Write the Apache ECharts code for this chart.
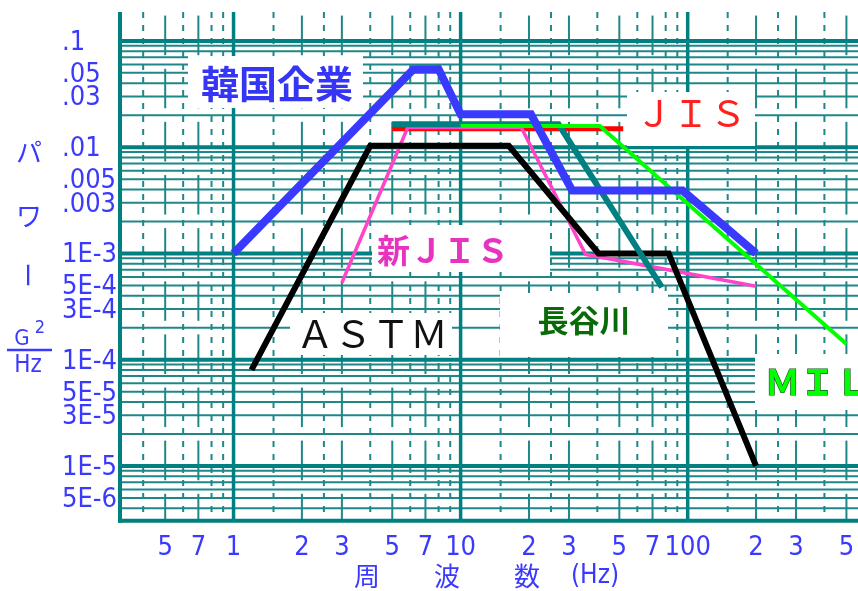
<!DOCTYPE html>
<html>
<head>
<meta charset="utf-8">
<script src="https://cdn.jsdelivr.net/npm/echarts@6/dist/echarts.min.js"></script>
<style>
  html, body { margin: 0; padding: 0; background: #ffffff; }
  #chart { width: 858px; height: 591px; }
</style>
</head>
<body>
<div id="chart"></div>
<script>
// Vibration test profiles: frequency (Hz) breakpoints and PSD (G^2/Hz) levels
const koreaFreq = [1, 6.2, 8.0, 10, 20.4, 31, 95, 200];
const koreaPsd  = [0.001, 0.054, 0.054, 0.0204, 0.0204, 0.0039, 0.0039, 0.001];

const astmFreq = [1.2, 4, 16.3, 40.5, 82.5, 200];
const astmPsd  = [8e-5, 0.0103, 0.0103, 0.001, 0.001, 1e-5];

const newJisFreq = [3, 5.85, 18.5, 35.5, 200];
const newJisPsd  = [5.3e-4, 0.0153, 0.0153, 9.8e-4, 4.9e-4];

const hasegawaFreq = [5, 27, 77];
const hasegawaPsd  = [0.0164, 0.0164, 4.8e-4];

const jisFreq = [5, 52];
const jisPsd  = [0.0149, 0.0149];

const milFreq = [10, 41, 500];
const milPsd  = [0.0158, 0.0158, 1.4e-4];

// Tick labels
const xTickValues = [0.5, 0.7, 1, 2, 3, 5, 7, 10, 20, 30, 50, 70, 100, 200, 300, 500];
const xTickLabels = ['5', '7', '1', '2', '3', '5', '7', '10', '2', '3', '5', '7', '100', '2', '3', '5'];
const yTickValues = [0.1, 0.05, 0.03, 0.01, 0.005, 0.003, 1e-3, 5e-4, 3e-4, 1e-4, 5e-5, 3e-5, 1e-5, 5e-6];
const yTickLabels = ['.1', '.05', '.03', '.01', '.005', '.003', '1E-3', '5E-4', '3E-4', '1E-4', '5E-5', '3E-5', '1E-5', '5E-6'];

// Graph-paper rulings
const xDecades = [1, 10, 100];
const xSolid = [0.5, 0.7, 2, 3, 5, 7, 20, 30, 50, 70, 200, 300, 500];
const xDashed = [0.4, 0.6, 0.8, 0.9, 1.5, 2.5, 4, 6, 8, 9, 15, 25, 40, 60, 80, 90, 150, 250, 400];
const yDecades = [0.1, 0.01, 1e-3, 1e-4, 1e-5];
const yMinorFactors = [0.9, 0.8, 0.7, 0.6, 0.5, 0.4, 0.3, 0.2];

const X_MIN = Math.pow(10, -0.5);
const X_MAX = Math.pow(10, 2.75);
const Y_MIN = 3.05e-6;
const Y_MAX = 0.187;

const RULE = '#008080';
const RULE_THIN = '#1f8787';
const LABEL_BLUE = '#3a3aff';
const NUM_FONT = "'Liberation Sans Narrow', 'DejaVu Sans Condensed', sans-serif";
const JP_FONT = "'Noto Sans CJK JP', sans-serif";

function pairs(xs, ys) { return xs.map((x, i) => [x, ys[i]]); }

function renderPaper(params, api) {
  const els = [];
  const px = v => api.coord([v, Y_MIN])[0];
  const py = v => api.coord([X_MIN, v])[1];
  const left = px(X_MIN), right = px(X_MAX);
  const bottom = py(Y_MIN), top = py(Y_MAX);
  const seg = (x1, y1, x2, y2, w, color, dash) => els.push({
    type: 'line',
    shape: { x1: x1, y1: y1, x2: x2, y2: y2 },
    style: { stroke: color, lineWidth: w, lineDash: dash || null }
  });

  // thin horizontal rulings
  yDecades.forEach(d => yMinorFactors.forEach(f => {
    const v = d * f;
    if (v > Y_MIN && v < Y_MAX) seg(left, py(v), right, py(v), 2, RULE_THIN);
  }));
  // dashed vertical rulings
  xDashed.forEach(v => seg(px(v), top, px(v), bottom, 2, RULE_THIN, [6, 7]));
  // solid vertical rulings, broken into segments
  const bands = [];
  [1e-6, 1e-5, 1e-4, 1e-3, 1e-2].forEach(d => {
    bands.push([2.32 * d, 5.46 * d]);
    bands.push([7.33 * d, 17.3 * d]);
  });
  xSolid.forEach(v => bands.forEach(b => {
    const lo = Math.max(b[0], Y_MIN), hi = Math.min(b[1], Y_MAX);
    if (hi > lo) seg(px(v), py(hi), px(v), py(lo), 2, RULE_THIN);
  }));
  // heavy decade rulings and frame
  yDecades.forEach(d => seg(left, py(d), right, py(d), 4, RULE));
  xDecades.forEach(v => seg(px(v), top, px(v), bottom, 3.5, RULE));
  seg(left, top, left, bottom + 2, 4, RULE);
  seg(left - 2, bottom, right, bottom, 4, RULE);

  // tick labels
  xTickValues.forEach((v, i) => els.push({
    type: 'text',
    style: {
      text: xTickLabels[i], x: px(v), y: bottom + 27,
      fill: LABEL_BLUE, font: '27px ' + NUM_FONT, align: 'center', verticalAlign: 'middle'
    }
  }));
  yTickValues.forEach((v, i) => els.push({
    type: 'text',
    style: {
      text: yTickLabels[i], x: left - 58, y: py(v) + 2,
      fill: LABEL_BLUE, font: '27px ' + NUM_FONT, align: 'left', verticalAlign: 'middle'
    }
  }));
  return { type: 'group', children: els };
}

function box(x, y, w, h) {
  return { type: 'rect', z: 2, shape: { x: x, y: y, width: w, height: h }, style: { fill: '#ffffff' } };
}
function label(text, x, y, font, fill, extra) {
  return {
    type: 'text', z: 2, x: x, y: y,
    style: Object.assign({ text: text, font: font, fill: fill, align: 'center', verticalAlign: 'middle' }, extra || {})
  };
}

function profile(name, xs, ys, color, width) {
  return {
    name: name, type: 'line', z: 3, data: pairs(xs, ys),
    symbol: 'none', showSymbol: false, silent: true,
    lineStyle: { color: color, width: width, join: 'miter' }
  };
}

const chart = echarts.init(document.getElementById('chart'), null, { renderer: 'canvas' });
chart.setOption({
  animation: false,
  backgroundColor: '#ffffff',
  grid: { left: 120, top: 12, width: 738, height: 508.7, containLabel: false },
  xAxis: { type: 'log', min: X_MIN, max: X_MAX, show: false },
  yAxis: { type: 'log', min: Y_MIN, max: Y_MAX, show: false },
  graphic: [
    // profile name plates
    box(188, 56, 175, 52),
    label('韓国企業', 277, 84, 'bold 38px ' + JP_FONT, '#3535f5'),
    box(627, 92, 128, 54),
    label('ＪＩＳ', 691, 113, '37px ' + JP_FONT, '#ff2020'),
    box(372, 225, 178, 47),
    label('新ＪＩＳ', 443, 250, 'bold 33px ' + JP_FONT, '#e832c0'),
    box(290, 313, 162, 42),
    label('ＡＳＴＭ', 372, 334, '38px ' + JP_FONT, '#111111'),
    box(500, 293, 168, 64),
    label('長谷川', 584, 320, 'bold 31px ' + JP_FONT, '#0a6a0a'),
    box(755, 354, 103, 56),
    label('ＭＩＬ', 765, 382, 'bold 35px ' + JP_FONT, '#00ff00',
      { align: 'left', stroke: '#1d4d1d', lineWidth: 1.2 }),
    // y-axis title: パワー  G^2 / Hz
    label('パ', 29, 152, '26px ' + JP_FONT, LABEL_BLUE),
    label('ワ', 29, 216, '26px ' + JP_FONT, LABEL_BLUE),
    { type: 'text', z: 2, x: 28, y: 275, rotation: -Math.PI / 2,
      style: { text: 'ー', font: '26px ' + JP_FONT, fill: LABEL_BLUE, align: 'center', verticalAlign: 'middle' } },
    label('G', 22, 339, '22px ' + NUM_FONT, LABEL_BLUE),
    label('2', 40, 328, '18px ' + NUM_FONT, LABEL_BLUE),
    { type: 'line', z: 2, shape: { x1: 7, y1: 350, x2: 52, y2: 350 }, style: { stroke: LABEL_BLUE, lineWidth: 2.5 } },
    label('Hz', 28, 366, '24px ' + NUM_FONT, LABEL_BLUE),
    // x-axis title
    label('周', 367, 576, '26px ' + JP_FONT, LABEL_BLUE),
    label('波', 447, 576, '26px ' + JP_FONT, LABEL_BLUE),
    label('数', 527, 576, '26px ' + JP_FONT, LABEL_BLUE),
    label('(Hz)', 595, 576, '26px ' + NUM_FONT, LABEL_BLUE)
  ],
  series: [
    {
      type: 'custom', z: 1, silent: true, clip: false,
      coordinateSystem: 'cartesian2d',
      data: [[1, 0.01]],
      renderItem: renderPaper
    },
    profile('JIS', jisFreq, jisPsd, '#ff0000', 5),
    profile('新JIS', newJisFreq, newJisPsd, '#ff44c8', 3.5),
    profile('ASTM', astmFreq, astmPsd, '#000000', 6),
    profile('長谷川', hasegawaFreq, hasegawaPsd, '#008080', 6),
    profile('MIL', milFreq, milPsd, '#00ff00', 4),
    profile('韓国企業', koreaFreq, koreaPsd, '#3a3aff', 8)
  ]
});
</script>
</body>
</html>
